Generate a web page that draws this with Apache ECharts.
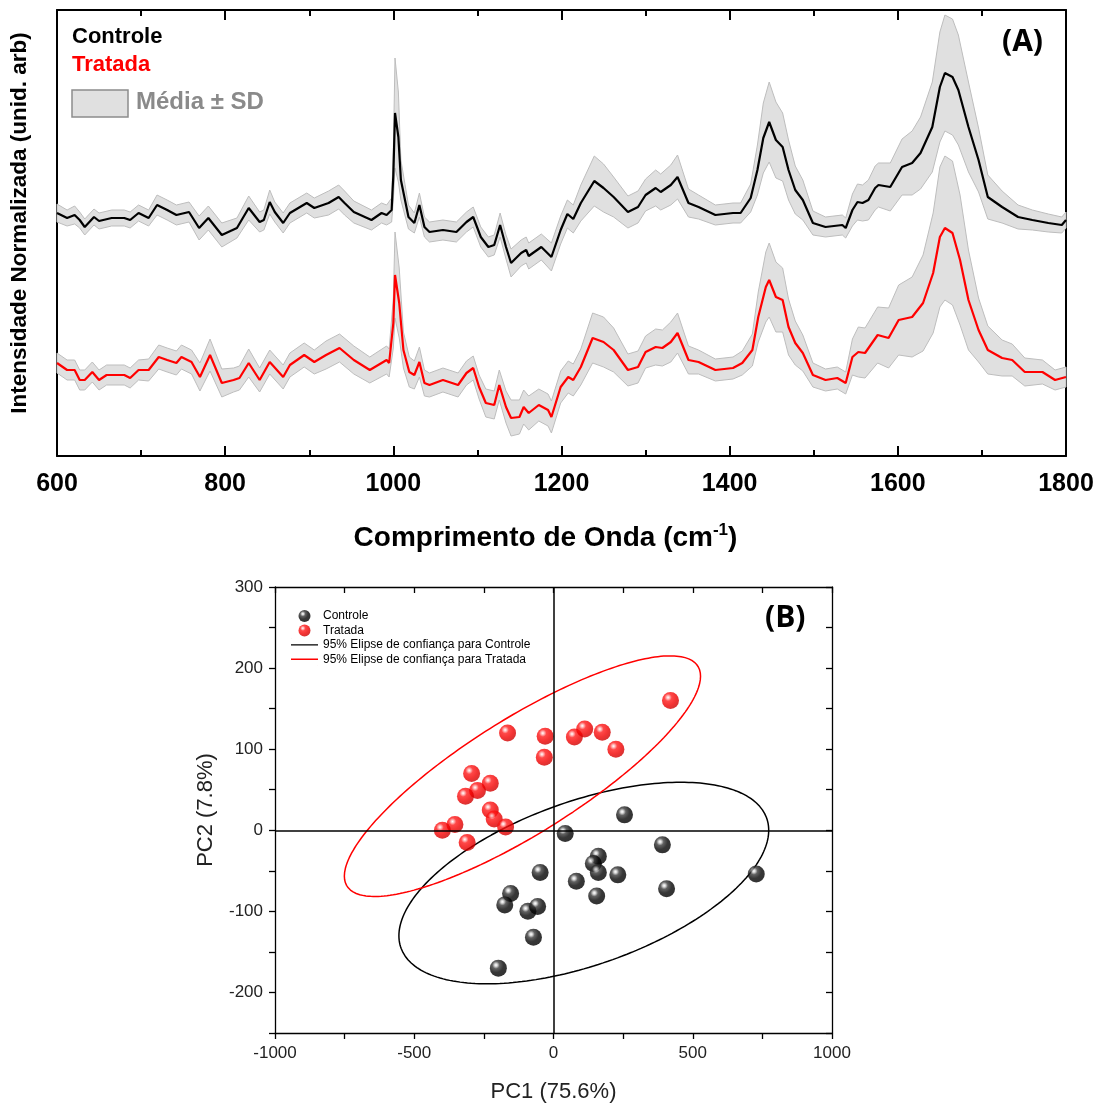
<!DOCTYPE html>
<html><head><meta charset="utf-8">
<script src="https://cdn.jsdelivr.net/npm/echarts@6/dist/echarts.min.js"></script>
<style>html,body{margin:0;padding:0;background:#fff}#c{width:1107px;height:1106px}</style>
</head><body><div id="c"></div>
<script>
// ---------- Panel A: Raman spectra (intensity in arbitrary units) ----------
const ctrlWn = [600,612,621,627,633,644,650,665,680,687,697,709,719,731,742,757,769,780,796,814,828,841,846,853,859,869,877,897,906,923,935,942,953,974,986,992,998,1000,1002,1006,1009,1018,1025,1031,1037,1043,1059,1075,1087,1095,1104,1113,1120,1127,1134,1140,1152,1158,1161,1176,1188,1199,1207,1214,1223,1239,1250,1262,1279,1291,1300,1312,1318,1330,1338,1351,1363,1383,1404,1413,1425,1433,1440,1447,1455,1463,1470,1478,1487,1499,1514,1534,1538,1546,1552,1558,1565,1573,1577,1591,1605,1617,1627,1641,1650,1656,1665,1672,1684,1696,1707,1724,1743,1760,1779,1795,1800];
const ctrlMean = [243,238,241,236,229,239,235,238,238,236,243,238,251,246,241,244,228,238,221,228,248,234,236,254,244,233,243,253,248,253,259,253,244,236,243,241,246,281,343,319,276,239,233,251,229,224,226,224,234,239,219,209,211,231,209,193,203,206,200,209,199,226,242,237,253,275,268,259,244,249,261,268,264,271,279,253,249,241,243,243,258,286,318,334,316,309,286,266,256,233,229,231,228,246,254,253,256,268,271,269,289,293,303,329,369,383,379,366,329,296,259,249,239,236,233,231,236];
const ctrlSd = [9,8,9,8,8,8,8,8,8,8,8,8,10,10,10,10,12,12,12,10,12,10,10,12,10,10,10,10,10,12,12,12,11,10,10,10,12,25,55,45,20,12,10,12,10,10,10,10,10,10,10,10,10,12,12,14,13,13,13,13,14,14,14,14,18,25,24,20,16,16,16,18,18,20,22,14,12,10,10,10,14,25,35,40,38,34,30,24,20,12,10,10,10,16,18,18,20,22,22,24,28,32,36,45,55,58,58,55,45,32,22,16,12,10,9,8,8];

const tratWn = [600,612,621,627,633,642,650,659,680,687,697,709,721,731,742,748,760,770,782,796,810,817,828,841,853,869,877,894,906,920,936,953,972,992,995,1000,1002,1007,1012,1019,1025,1031,1037,1043,1059,1077,1087,1095,1102,1110,1120,1126,1134,1140,1150,1155,1161,1173,1184,1188,1199,1208,1214,1223,1237,1250,1262,1279,1291,1300,1312,1320,1330,1338,1351,1363,1383,1404,1415,1427,1434,1443,1447,1455,1463,1470,1478,1487,1499,1514,1528,1538,1546,1553,1561,1576,1589,1601,1617,1630,1642,1650,1656,1665,1674,1684,1696,1707,1724,1736,1751,1772,1787,1800];
const tratMean = [93,86,86,76,76,84,76,81,81,78,86,86,99,96,93,99,94,79,101,73,76,78,93,76,94,79,91,101,94,101,108,96,86,96,93,133,181,153,106,84,81,94,73,71,76,71,83,88,69,53,51,71,49,38,39,49,43,51,46,39,69,79,76,89,118,114,106,86,89,104,109,108,114,123,96,94,86,88,93,106,139,169,176,159,156,129,113,103,81,76,78,73,99,104,103,121,118,136,139,153,183,219,228,223,196,156,126,106,98,96,84,84,76,79];
const tratSd = [10,10,10,10,10,10,10,10,10,10,10,11,12,12,12,12,12,14,16,14,12,12,14,12,12,12,12,12,12,14,14,14,13,14,14,25,43,35,18,15,14,15,13,12,12,12,12,12,12,14,14,15,16,18,17,17,17,16,16,16,16,16,16,18,25,25,22,16,16,16,18,18,20,20,14,12,11,11,12,16,25,35,37,35,32,28,22,18,12,11,11,11,18,25,25,28,30,35,40,48,60,70,72,72,65,50,32,24,18,16,14,12,10,10];

// ---------- Panel B: PCA scores [PC1, PC2] ----------
const pcaCtrl = [[255,19],[42,-4],[391,-18],[161,-32],[143,-41],[161,-52],[231,-55],[82,-63],[-48,-52],[728,-54],[406,-72],[155,-81],[-154,-78],[-175,-92],[-92,-100],[-57,-94],[-72,-132],[-198,-170]];
const pcaTrat = [[420,160],[-165,120],[-30,116],[-33,90],[75,115],[112,125],[175,121],[224,100],[-294,70],[-227,58],[-273,49],[-316,42],[-227,25],[-213,14],[-172,4],[-354,7],[-399,0],[-310,-15]];

const labCtrl = 'Controle', labTrat = 'Tratada';
const labEllC = '95% Elipse de confiança para Controle';
const labEllT = '95% Elipse de confiança para Tratada';

// 95% confidence ellipse from sample covariance (F(0.95; 2, n-2) for n = 18)
const F95 = 3.6337;
function ellipse(pts, steps) {
  const n = pts.length;
  let mx = 0, my = 0;
  pts.forEach(p => { mx += p[0]; my += p[1]; });
  mx /= n; my /= n;
  let sxx = 0, syy = 0, sxy = 0;
  pts.forEach(p => { const dx = p[0] - mx, dy = p[1] - my; sxx += dx * dx; syy += dy * dy; sxy += dx * dy; });
  sxx /= (n - 1); syy /= (n - 1); sxy /= (n - 1);
  const k = Math.sqrt(2 * (n - 1) / (n - 2) * F95);
  const l11 = Math.sqrt(sxx), l21 = sxy / l11, l22 = Math.sqrt(syy - l21 * l21);
  const out = [];
  for (let i = 0; i <= steps; i++) {
    const t = 2 * Math.PI * i / steps, c = Math.cos(t), s = Math.sin(t);
    out.push([mx + k * l11 * c, my + k * (l21 * c + l22 * s)]);
  }
  return out;
}

function band(name, wn, mean, sd) {
  return {
    type: 'custom', name: name, xAxisIndex: 0, yAxisIndex: 0, silent: true, z: 1,
    data: [[wn[0], mean[0]]],
    renderItem: function (params, api) {
      const pts = [];
      for (let i = 0; i < wn.length; i++) pts.push(api.coord([wn[i], mean[i] + sd[i]]));
      for (let i = wn.length - 1; i >= 0; i--) pts.push(api.coord([wn[i], mean[i] - sd[i]]));
      return { type: 'polygon', shape: { points: pts }, style: { fill: '#e0e0e0', stroke: '#bdbdbd', lineWidth: 1 } };
    }
  };
}

const FF = 'Liberation Sans';
const sphereBlack = { type: 'radial', x: 0.36, y: 0.32, r: 0.68, colorStops: [{ offset: 0, color: '#ffffff' }, { offset: 0.12, color: '#d0d0d0' }, { offset: 0.32, color: '#3a3a3a' }, { offset: 0.65, color: '#050505' }, { offset: 1, color: '#000' }] };
const sphereRed = { type: 'radial', x: 0.36, y: 0.32, r: 0.68, colorStops: [{ offset: 0, color: '#ffffff' }, { offset: 0.12, color: '#ffb4b4' }, { offset: 0.32, color: '#ff1a1a' }, { offset: 0.7, color: '#f00000' }, { offset: 1, color: '#d00000' }] };
// thin horizontal line icon; corner specks give the path the same 27x12 box as the legend item
const lineIcon = 'path://M0,0L0.1,0L0.1,0.1L0,0.1ZM0,5.4H27V6.7H0ZM26.9,11.9L27,11.9L27,12L26.9,12Z';

const axA = { color: '#000', width: 2 };
const axB = { color: '#000', width: 1.3 };

const option = {
  animation: false,
  textStyle: { fontFamily: FF },
  grid: [
    { left: 55, top: 10, width: 1011, height: 446 },
    { left: 275, top: 587, width: 557, height: 446 }
  ],
  legend: {
    data: [
      { name: labCtrl },
      { name: labTrat },
      { name: labEllC, icon: lineIcon },
      { name: labEllT, icon: lineIcon }
    ],
    orient: 'vertical', left: 291, top: 610, padding: 0, itemWidth: 27, itemHeight: 12, itemGap: 2.4,
    selectedMode: false,
    textStyle: { fontSize: 12, fontFamily: FF, color: '#000' }
  },
  xAxis: [
    { gridIndex: 0, type: 'value', min: 600, max: 1800, interval: 200, position: 'bottom',
      axisLine: { show: true, onZero: false, lineStyle: axA },
      axisTick: { show: true, inside: true, length: 10, lineStyle: axA },
      minorTick: { show: true, splitNumber: 2, length: 6, lineStyle: axA },
      axisLabel: { fontFamily: FF, fontWeight: 'bold', fontSize: 25, color: '#000', margin: 16, formatter: v => String(v) },
      splitLine: { show: false },
      name: '{t|Comprimento de Onda (cm}{s|-1}{t|)}', nameLocation: 'middle', nameGap: 66,
      nameTextStyle: { padding: [0, 32, 0, 0], rich: {
        t: { fontFamily: FF, fontWeight: 'bold', fontSize: 28, color: '#000' },
        s: { fontFamily: FF, fontWeight: 'bold', fontSize: 17, color: '#000', padding: [0, 0, 16, 0] } } } },
    { gridIndex: 0, type: 'value', min: 600, max: 1800, interval: 200, position: 'top',
      axisLine: { show: true, onZero: false, lineStyle: axA },
      axisTick: { show: true, inside: true, length: 10, lineStyle: axA },
      minorTick: { show: true, splitNumber: 2, length: 6, lineStyle: axA },
      axisLabel: { show: false }, splitLine: { show: false } },
    { gridIndex: 1, type: 'value', min: -1000, max: 1000, interval: 250, position: 'bottom',
      axisLine: { show: true, onZero: false, lineStyle: axB },
      axisTick: { show: true, inside: false, length: 6, lineStyle: axB },
      axisLabel: { fontFamily: FF, fontSize: 17, color: '#222', margin: 12,
        formatter: v => (v % 500 === 0 ? String(v) : '') },
      splitLine: { show: false },
      name: 'PC1 (75.6%)', nameLocation: 'middle', nameGap: 48,
      nameTextStyle: { fontFamily: FF, fontSize: 22, color: '#222' } },
    { gridIndex: 1, type: 'value', min: -1000, max: 1000, interval: 250, position: 'top',
      axisLine: { show: true, onZero: false, lineStyle: axB },
      axisTick: { show: true, inside: true, length: 6, lineStyle: axB },
      axisLabel: { show: false }, splitLine: { show: false } }
  ],
  yAxis: [
    { gridIndex: 0, type: 'value', min: 0, max: 446, position: 'left',
      axisLine: { show: true, onZero: false, lineStyle: axA },
      axisTick: { show: false }, axisLabel: { show: false }, splitLine: { show: false },
      name: 'Intensidade Normalizada (unid. arb)', nameLocation: 'middle', nameGap: 26,
      nameTextStyle: { fontFamily: FF, fontWeight: 'bold', fontSize: 22.5, color: '#000', padding: [0, 0, 0, 20] } },
    { gridIndex: 0, type: 'value', min: 0, max: 446, position: 'right',
      axisLine: { show: true, onZero: false, lineStyle: axA },
      axisTick: { show: false }, axisLabel: { show: false }, splitLine: { show: false } },
    { gridIndex: 1, type: 'value', min: -250, max: 300, interval: 50, position: 'left',
      axisLine: { show: true, onZero: false, lineStyle: axB },
      axisTick: { show: true, inside: false, length: 6, lineStyle: axB },
      axisLabel: { fontFamily: FF, fontSize: 17, color: '#222', margin: 12,
        formatter: v => (v % 100 === 0 ? String(v) : '') },
      splitLine: { show: false },
      name: 'PC2 (7.8%)', nameLocation: 'middle', nameGap: 58,
      nameTextStyle: { fontFamily: FF, fontSize: 22, color: '#222' } },
    { gridIndex: 1, type: 'value', min: -250, max: 300, interval: 50, position: 'right',
      axisLine: { show: true, onZero: false, lineStyle: axB },
      axisTick: { show: true, inside: true, length: 6, lineStyle: axB },
      axisLabel: { show: false }, splitLine: { show: false } }
  ],
  series: [
    band('Controle ± SD', ctrlWn, ctrlMean, ctrlSd),
    band('Tratada ± SD', tratWn, tratMean, tratSd),
    { type: 'line', name: 'Controle (média)', xAxisIndex: 0, yAxisIndex: 0, z: 3,
      data: ctrlWn.map((w, i) => [w, ctrlMean[i]]), showSymbol: false, symbol: 'none',
      lineStyle: { color: '#000', width: 2.2 } },
    { type: 'line', name: 'Tratada (média)', xAxisIndex: 0, yAxisIndex: 0, z: 3,
      data: tratWn.map((w, i) => [w, tratMean[i]]), showSymbol: false, symbol: 'none',
      lineStyle: { color: '#ff0000', width: 2.2 } },
    { type: 'line', name: labEllC, xAxisIndex: 2, yAxisIndex: 2, z: 2,
      data: ellipse(pcaCtrl, 240), showSymbol: false, symbol: 'none', smooth: false,
      lineStyle: { color: '#000', width: 1.5 }, itemStyle: { color: '#000' },
      markLine: { silent: true, symbol: ['none', 'none'], label: { show: false },
        lineStyle: { color: '#000', width: 1.5, type: 'solid' },
        data: [{ xAxis: 0 }, { yAxis: 0 }] } },
    { type: 'line', name: labEllT, xAxisIndex: 2, yAxisIndex: 2, z: 2,
      data: ellipse(pcaTrat, 240), showSymbol: false, symbol: 'none', smooth: false,
      lineStyle: { color: '#ff0000', width: 1.5 }, itemStyle: { color: '#ff0000' } },
    { type: 'scatter', name: labCtrl, xAxisIndex: 2, yAxisIndex: 2, z: 4,
      data: pcaCtrl, symbol: 'circle', symbolSize: 17, itemStyle: { color: sphereBlack } },
    { type: 'scatter', name: labTrat, xAxisIndex: 2, yAxisIndex: 2, z: 4,
      data: pcaTrat, symbol: 'circle', symbolSize: 17, itemStyle: { color: sphereRed } }
  ],
  graphic: [
    { type: 'text', left: 72, top: 26, style: { text: 'Controle', fill: '#000', font: 'bold 22px "Liberation Sans"' } },
    { type: 'text', left: 72, top: 54, style: { text: 'Tratada', fill: '#ff0000', font: 'bold 22px "Liberation Sans"' } },
    { type: 'rect', shape: { x: 72, y: 90, width: 56, height: 27 }, style: { fill: '#e0e0e0', stroke: '#8c8c8c', lineWidth: 1.5 } },
    { type: 'text', left: 136, top: 90, style: { text: 'Média ± SD', fill: '#8a8a8a', font: 'bold 24px "Liberation Sans"' } },
    { type: 'text', left: 1002, top: 27, style: { text: '(A)', fill: '#000', font: 'bold 30px "Open Sans"' } },
    { type: 'text', left: 765, top: 603, style: { text: '(B)', fill: '#000', font: 'bold 30px "Open Sans"' } }
  ]
};

const chart = echarts.init(document.getElementById('c'), null, { renderer: 'canvas' });
chart.setOption(option);
</script>
</body></html>
